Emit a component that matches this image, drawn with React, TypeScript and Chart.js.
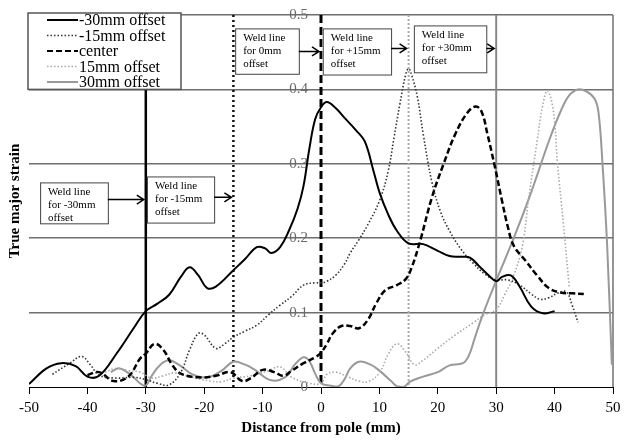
import React, { useEffect, useRef } from 'react';
import { Chart, registerables } from 'chart.js';
Chart.register(...registerables);

const SERIF = "'Liberation Serif','Times New Roman',serif";

const xTicks = [-50, -40, -30, -20, -10, 0, 10, 20, 30, 40, 50];
const yTicks = [0, 0.1, 0.2, 0.3, 0.4, 0.5];
const seriesNames = ['-30mm offset', '-15mm offset', 'center', '15mm offset', '30mm offset'];

const m30X = [-50, -47, -44.5, -42, -40, -38, -35, -32, -30, -28, -26, -24, -22.5, -21, -19.5, -18, -15, -13, -11, -9.5, -8.5, -7, -5.5, -4, -3, -2, -1, 0, 1, 2.5, 4, 6, 7.5, 9, 10, 11.5, 13, 15, 17.5, 20, 22, 24, 25.5, 27, 29, 30, 31, 32.5, 34, 36, 38, 40];
const m30Y = [0.004, 0.025, 0.032, 0.028, 0.014, 0.015, 0.045, 0.08, 0.102, 0.112, 0.124, 0.148, 0.161, 0.15, 0.133, 0.135, 0.157, 0.172, 0.188, 0.186, 0.18, 0.188, 0.21, 0.24, 0.27, 0.32, 0.36, 0.376, 0.383, 0.375, 0.362, 0.345, 0.33, 0.29, 0.262, 0.232, 0.21, 0.193, 0.192, 0.183, 0.176, 0.175, 0.174, 0.163, 0.148, 0.142, 0.148, 0.15, 0.135, 0.108, 0.099, 0.102];

const m15X = [-46, -43, -41, -39.5, -38, -35, -32, -30, -28, -26, -24, -22.5, -21, -20, -18, -16.5, -15, -13, -11, -9, -7, -5, -3, -1, 0, 1, 2.5, 4, 5, 6.5, 8, 10, 11.5, 12.5, 13.5, 14.5, 15, 15.5, 16.5, 17.5, 19, 20.5, 22, 24, 26, 28, 30, 32, 34, 36, 37.5, 39, 40.5, 42, 43, 44];
const m15Y = [0.017, 0.032, 0.041, 0.03, 0.016, 0.012, 0.013, 0.01, 0.005, 0.003, 0.02, 0.05, 0.072, 0.07, 0.052, 0.058, 0.067, 0.075, 0.083, 0.097, 0.11, 0.122, 0.137, 0.14, 0.14, 0.142, 0.15, 0.165, 0.18, 0.198, 0.218, 0.25, 0.29, 0.335, 0.38, 0.42, 0.428, 0.42, 0.39, 0.34, 0.275, 0.235, 0.21, 0.185, 0.167, 0.152, 0.144, 0.144, 0.137, 0.125, 0.118, 0.12, 0.126, 0.128, 0.11, 0.087];

const cX = [-40, -38, -35.5, -33, -31, -30, -28.5, -27, -25.5, -24, -21, -18, -15.5, -13.5, -12, -10, -8, -6.5, -5, -3, -1, 0, 1, 2, 3.5, 5, 6.5, 8, 9.5, 11, 13, 14.5, 15.5, 17, 19, 21, 23, 25, 26.5, 27.5, 28.5, 29.8, 31, 32, 33, 35, 37, 39, 41, 43, 45];
const cY = [0.016, 0.02, 0.008, 0.014, 0.038, 0.045, 0.058, 0.05, 0.03, 0.018, 0.013, 0.015, 0.02, 0.008, 0.012, 0.023, 0.02, 0.015, 0.022, 0.032, 0.04, 0.046, 0.058, 0.072, 0.082, 0.082, 0.079, 0.09, 0.113, 0.13, 0.137, 0.145, 0.16, 0.197, 0.255, 0.3, 0.34, 0.368, 0.377, 0.37, 0.34, 0.295, 0.25, 0.215, 0.19, 0.17, 0.15, 0.133, 0.127, 0.126, 0.125];

const p15X = [-37, -35, -33, -31, -29, -27, -25, -22, -19, -17, -15, -12, -9, -7, -5, -2, 0, 1, 2.5, 4.5, 6.5, 8, 10, 11.5, 13, 14.5, 16, 17.5, 20, 23, 26, 28, 30, 31.5, 33, 34.5, 35.5, 37, 38, 38.8, 39.8, 40.5, 41.5, 42.5];
const p15Y = [0.02, 0.025, 0.022, 0.02, 0.012, 0.015, 0.019, 0.013, 0.008, 0.007, 0.012, 0.015, 0.022, 0.027, 0.013, 0.005, 0.005, 0.017, 0.02, 0.014, 0.008, 0.007, 0.019, 0.044, 0.058, 0.047, 0.03, 0.036, 0.052, 0.07, 0.086, 0.097, 0.104, 0.125, 0.15, 0.19, 0.25, 0.33, 0.38, 0.398, 0.37, 0.3, 0.22, 0.135];

const p30X = [-36, -34.5, -32.5, -31, -30, -29, -27.5, -26, -24, -22, -19.5, -17, -15, -13, -11.5, -8.5, -6, -4.5, -3, -2, -1, 0, 1.5, 3, 4, 5, 6.5, 8.5, 10, 12, 13, 14.2, 15.2, 17.5, 20, 22, 24.3, 25.3, 26.3, 27.5, 30, 33, 36, 39, 41, 42.5, 44, 45.5, 46.8, 47.5, 48.2, 49, 49.8];
const p30Y = [0.02, 0.025, 0.016, 0.005, 0.002, 0.015, 0.03, 0.036, 0.028, 0.017, 0.013, 0.022, 0.034, 0.03, 0.024, 0.009, 0.014, 0.03, 0.04, 0.035, 0.018, 0.005, 0.002, 0.001, 0.01, 0.025, 0.034, 0.03, 0.022, 0.008, 0.001, 0, 0.007, 0.014, 0.02, 0.029, 0.032, 0.042, 0.065, 0.093, 0.143, 0.2, 0.262, 0.33, 0.37, 0.392, 0.4, 0.397, 0.388, 0.37, 0.3, 0.19, 0.03];

const weldPositions = [-30, -15, 0, 15, 30];
const weldLabels = [
  ['Weld line', 'for -30mm', 'offset'],
  ['Weld line', 'for -15mm', 'offset'],
  ['Weld line', 'for 0mm', 'offset'],
  ['Weld line', 'for +15mm', 'offset'],
  ['Weld line', 'for +30mm', 'offset'],
];

const seriesStyles = [
  { color: '#000000', width: 2, dash: [] as number[] },
  { color: '#333333', width: 1.6, dash: [1.5, 2] },
  { color: '#000000', width: 2.5, dash: [6, 3] },
  { color: '#aaaaaa', width: 1.6, dash: [1.5, 2] },
  { color: '#999999', width: 2, dash: [] as number[] },
];

const weldStyles = [
  { color: '#000000', width: 2.5, dash: [] as number[] },
  { color: '#111111', width: 2.5, dash: [2, 3] },
  { color: '#000000', width: 3, dash: [8, 4] },
  { color: '#aaaaaa', width: 2, dash: [2, 2] },
  { color: '#888888', width: 2, dash: [] as number[] },
];

// annotation box placement in data units: [x0, x1, yTop, yBottom, arrowY]
const boxPlacement = [
  [-48.1, -36.5, 0.275, 0.22, 0.252],
  [-29.8, -18.3, 0.283, 0.221, 0.255],
  [-14.7, -3.8, 0.482, 0.421, 0.451],
  [0.3, 12.0, 0.482, 0.42, 0.455],
  [15.9, 28.3, 0.486, 0.423, 0.455],
];

const allX = [m30X, m15X, cX, p15X, p30X];
const allY = [m30Y, m15Y, cY, p15Y, p30Y];

const overlay = {
  id: 'overlay',
  beforeDatasetsDraw(chart: any) {
    const { ctx, chartArea: ca, scales } = chart;
    const x = scales.x, y = scales.y;
    ctx.save();
    ctx.strokeStyle = '#707070';
    ctx.lineWidth = 1.5;
    const xr = x.getPixelForValue(50);
    ctx.beginPath(); ctx.moveTo(xr, ca.top); ctx.lineTo(xr, ca.bottom); ctx.stroke();
    ctx.font = `15px ${SERIF}`;
    ctx.fillStyle = '#6a6a6a';
    ctx.textAlign = 'right';
    ctx.textBaseline = 'middle';
    yTicks.forEach(v => {
      ctx.fillText(v === 0 ? '0' : v.toFixed(1), x.getPixelForValue(0) - 13, y.getPixelForValue(v));
    });
    weldPositions.forEach((p, i) => {
      const st = weldStyles[i];
      const px = x.getPixelForValue(p);
      ctx.strokeStyle = st.color;
      ctx.lineWidth = st.width;
      ctx.setLineDash(st.dash);
      ctx.beginPath(); ctx.moveTo(px, ca.top); ctx.lineTo(px, ca.bottom); ctx.stroke();
    });
    ctx.setLineDash([]);
    ctx.restore();
  },
  afterDraw(chart: any) {
    const { ctx, chartArea: ca, scales } = chart;
    const x = scales.x, y = scales.y;
    ctx.save();
    boxPlacement.forEach((b, i) => {
      const x0 = x.getPixelForValue(b[0]);
      const x1 = x.getPixelForValue(b[1]);
      const y0 = y.getPixelForValue(b[2]);
      const y1 = y.getPixelForValue(b[3]);
      const ay = y.getPixelForValue(b[4]);
      const tip = x.getPixelForValue(weldPositions[i]) - 2;
      ctx.fillStyle = '#ffffff';
      ctx.fillRect(x0, y0, x1 - x0, y1 - y0);
      ctx.strokeStyle = '#444444';
      ctx.lineWidth = 1;
      ctx.strokeRect(x0 + 0.5, y0 + 0.5, x1 - x0, y1 - y0);
      ctx.fillStyle = '#000000';
      ctx.font = `11px ${SERIF}`;
      ctx.textAlign = 'left';
      ctx.textBaseline = 'middle';
      weldLabels[i].forEach((t, k) => ctx.fillText(t, x0 + 8, y0 + 10 + k * 13));
      ctx.strokeStyle = '#000000';
      ctx.lineWidth = 1.5;
      ctx.beginPath();
      ctx.moveTo(x1, ay); ctx.lineTo(tip, ay);
      ctx.moveTo(tip - 7, ay - 4.5); ctx.lineTo(tip, ay); ctx.lineTo(tip - 7, ay + 4.5);
      ctx.stroke();
    });
    const lx0 = 28, ly0 = 13, lx1 = 181, ly1 = y.getPixelForValue(0.4);
    ctx.fillStyle = '#ffffff';
    ctx.fillRect(lx0, ly0, lx1 - lx0, ly1 - ly0);
    ctx.strokeStyle = '#555555';
    ctx.lineWidth = 1.5;
    ctx.strokeRect(lx0, ly0, lx1 - lx0, ly1 - ly0);
    ctx.font = `16px ${SERIF}`;
    ctx.textAlign = 'left';
    ctx.textBaseline = 'middle';
    chart.data.datasets.forEach((ds: any, i: number) => {
      const ry = 20 + i * 15.5;
      ctx.strokeStyle = ds.borderColor;
      ctx.lineWidth = Math.min(ds.borderWidth, 2);
      ctx.setLineDash(ds.borderDash || []);
      ctx.beginPath(); ctx.moveTo(47, ry); ctx.lineTo(78, ry); ctx.stroke();
      ctx.setLineDash([]);
      ctx.fillStyle = '#000000';
      ctx.fillText(ds.label, 79, ry + 1);
    });
    ctx.fillStyle = '#000000';
    ctx.font = `bold 15px ${SERIF}`;
    ctx.textAlign = 'center';
    ctx.textBaseline = 'middle';
    ctx.fillText('Distance from pole (mm)', (ca.left + ca.right) / 2, 428);
    ctx.save();
    ctx.translate(15, (ca.top + ca.bottom) / 2);
    ctx.rotate(-Math.PI / 2);
    ctx.fillText('True major strain', 0, 0);
    ctx.restore();
    ctx.restore();
  },
};

export default function App() {
  const ref = useRef<HTMLCanvasElement>(null);
  useEffect(() => {
    const chart = new Chart(ref.current as HTMLCanvasElement, {
      type: 'line',
      data: {
        datasets: seriesNames.map((name, i) => ({
          label: name,
          data: allX[i].map((v, k) => ({ x: v, y: allY[i][k] })),
          borderColor: seriesStyles[i].color,
          borderWidth: seriesStyles[i].width,
          borderDash: seriesStyles[i].dash,
          pointRadius: 0,
          tension: 0.4,
          fill: false,
        })),
      },
      options: {
        responsive: false,
        animation: false,
        devicePixelRatio: 1,
        layout: { padding: { left: 0, right: 13, top: 15, bottom: 0 } },
        plugins: { legend: { display: false }, tooltip: { enabled: false } },
        scales: {
          x: {
            type: 'linear',
            min: -50,
            max: 50,
            afterFit: (s: any) => { s.height = 61; },
            afterBuildTicks: (s: any) => { s.ticks = xTicks.map(v => ({ value: v })); },
            ticks: { font: { family: SERIF, size: 15 }, color: '#000000', padding: 5, maxRotation: 0, autoSkip: false },
            grid: { drawOnChartArea: false, drawTicks: true, tickLength: 7, color: '#000000', lineWidth: 1 },
            border: { display: true, color: '#000000', width: 1 },
          },
          y: {
            type: 'linear',
            min: 0,
            max: 0.5,
            afterFit: (s: any) => { s.width = 29; },
            afterBuildTicks: (s: any) => { s.ticks = yTicks.map(v => ({ value: v })); },
            ticks: { display: false },
            grid: {
              drawTicks: false,
              color: (c: any) => (c.tick && c.tick.value === 0 ? 'rgba(0,0,0,0)' : '#6e6e6e'),
              lineWidth: 1.5,
            },
            border: { display: false },
          },
        },
      } as any,
      plugins: [overlay],
    });
    return () => chart.destroy();
  }, []);
  return (
    <div style={{ position: 'fixed', left: 0, top: 0, width: 626, height: 448, background: '#ffffff' }}>
      <canvas ref={ref} width={626} height={448} />
    </div>
  );
}
